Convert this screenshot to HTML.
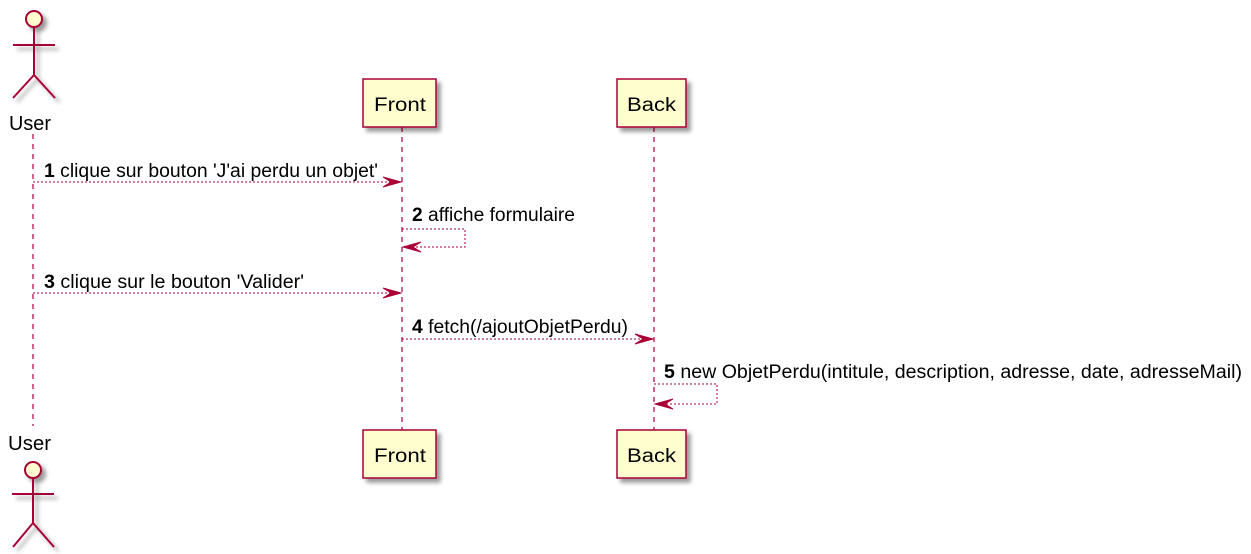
<!DOCTYPE html>
<html><head><meta charset="utf-8"><style>
html,body{margin:0;padding:0;background:#fff;}
svg{display:block;}
text{font-family:"Liberation Sans",sans-serif;font-size:19px;fill:#000;}
</style></head><body>
<svg width="1251" height="554" viewBox="0 0 1251 554" xmlns="http://www.w3.org/2000/svg">
<defs>
<filter id="sh" x="-20%" y="-20%" width="150%" height="150%"><feGaussianBlur in="SourceAlpha" stdDeviation="2"/><feOffset dx="4" dy="4"/><feComponentTransfer><feFuncA type="linear" slope="0.4"/></feComponentTransfer><feMerge><feMergeNode/><feMergeNode in="SourceGraphic"/></feMerge></filter>
</defs>
<g stroke="#A80036" stroke-width="1.2" stroke-dasharray="5,5" fill="none">
<line x1="33" y1="134" x2="33" y2="426"/>
<line x1="402" y1="127" x2="402" y2="430"/>
<line x1="654" y1="127" x2="654" y2="430"/>
</g>
<g stroke="#A80036" stroke-width="2" fill="none" filter="url(#sh)">
<circle cx="34" cy="19" r="8" fill="#FEFECE"/>
<line x1="34" y1="27" x2="34" y2="75"/><line x1="13" y1="45" x2="55" y2="45"/>
<line x1="34" y1="75" x2="13" y2="98"/><line x1="34" y1="75" x2="55" y2="98"/>
<circle cx="33" cy="470" r="8" fill="#FEFECE"/>
<line x1="33" y1="478" x2="33" y2="523"/><line x1="12" y1="494" x2="54" y2="494"/>
<line x1="33" y1="523" x2="13" y2="547"/><line x1="33" y1="523" x2="54" y2="547"/>
</g>
<text x="9" y="130" textLength="42" lengthAdjust="spacingAndGlyphs" style="font-size:20px">User</text>
<text x="8" y="450" textLength="43" lengthAdjust="spacingAndGlyphs" style="font-size:20px">User</text>
<g stroke="#A80036" stroke-width="1.5" fill="#FEFECE" filter="url(#sh)">
<rect x="363" y="79" width="73" height="48"/>
<rect x="617" y="79" width="69" height="48"/>
<rect x="363" y="430" width="73" height="48"/>
<rect x="617" y="430" width="69" height="48"/>
</g>
<g style="font-size:20px">
<text x="374" y="111" textLength="52" lengthAdjust="spacingAndGlyphs">Front</text>
<text x="627" y="111" textLength="49" lengthAdjust="spacingAndGlyphs">Back</text>
<text x="374" y="462" textLength="52" lengthAdjust="spacingAndGlyphs">Front</text>
<text x="627" y="462" textLength="49" lengthAdjust="spacingAndGlyphs">Back</text>
</g>
<g stroke="#A80036" stroke-width="1" stroke-dasharray="2,2" fill="none">
<line x1="33" y1="182" x2="392" y2="182"/>
<polyline points="402,229 465,229 465,247 412,247"/>
<line x1="33" y1="293" x2="392" y2="293"/>
<line x1="402" y1="339" x2="644" y2="339"/>
<polyline points="654,384 717,384 717,404 664,404"/>
</g>
<g fill="#A80036" stroke="#A80036" stroke-width="1">
<polygon points="383,177 401,182 383,187 391,182"/>
<polygon points="421,242 403,247 421,252 413,247"/>
<polygon points="383,288 401,293 383,298 391,293"/>
<polygon points="635,334 653,339 635,344 643,339"/>
<polygon points="673,399 655,404 673,409 665,404"/>
</g>
<text x="44" y="177" textLength="334" lengthAdjust="spacingAndGlyphs"><tspan font-weight="bold">1</tspan> clique sur bouton 'J'ai perdu un objet'</text>
<text x="412" y="221" textLength="163" lengthAdjust="spacingAndGlyphs"><tspan font-weight="bold">2</tspan> affiche formulaire</text>
<text x="44" y="288" textLength="260" lengthAdjust="spacingAndGlyphs"><tspan font-weight="bold">3</tspan> clique sur le bouton 'Valider'</text>
<text x="412" y="333" textLength="216" lengthAdjust="spacingAndGlyphs"><tspan font-weight="bold">4</tspan> fetch(/ajoutObjetPerdu)</text>
<text x="664" y="378" textLength="578" lengthAdjust="spacingAndGlyphs"><tspan font-weight="bold">5</tspan> new ObjetPerdu(intitule, description, adresse, date, adresseMail)</text>
</svg>
</body></html>
